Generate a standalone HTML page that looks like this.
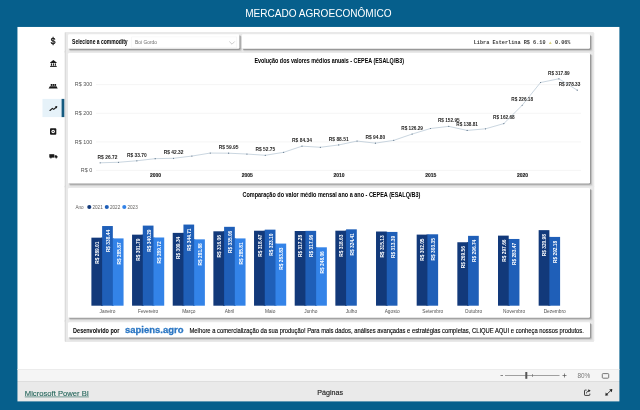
<!DOCTYPE html>
<html><head><meta charset="utf-8"><title>Mercado Agroeconômico</title>
<style>
html,body{margin:0;padding:0;}
body{width:640px;height:410px;overflow:hidden;background:#065f8c;position:relative;font-family:"Liberation Sans",sans-serif;}
.abs{position:absolute;}
svg{will-change:transform;} svg text{font-family:"Liberation Sans",sans-serif;}
</style></head>
<body>
<svg class="abs" style="left:0;top:0" width="640" height="410" viewBox="0 0 640 410">

<rect x="17.45" y="26.95" width="601.95" height="342.05" fill="#fff"/>
<rect x="17.45" y="369" width="601.95" height="12" fill="#f5f5f5"/>
<rect x="17.45" y="369" width="601.95" height="1" fill="#ececec"/>
<rect x="17.45" y="381" width="601.95" height="1" fill="#dedede"/>
<rect x="17.45" y="382" width="601.95" height="19.4" fill="#eaeaea"/>
<rect x="42.5" y="98.9" width="19.3" height="18.2" fill="#e6f2f9"/>
<rect x="61.6" y="98.9" width="2.8" height="18.2" fill="#165b80"/>

<!-- sidebar -->

 <!-- bank -->
 <g fill="#1a1a1a">
  <path d="M50.1 62.6 L53.4 60 L56.7 62.6 L56.7 63.1 L50.1 63.1 Z"/>
  <rect x="50.9" y="63.4" width="1.1" height="2.3"/><rect x="52.85" y="63.4" width="1.1" height="2.3"/><rect x="54.8" y="63.4" width="1.1" height="2.3"/>
  <rect x="50.1" y="65.9" width="6.6" height="1"/>
 </g>
 <!-- ship -->
 <g fill="#1a1a1a">
  <path d="M49.9 86.2 L56.5 86.2 L57.7 88.5 L48.6 88.5 Z"/>
  <rect x="50.7" y="84" width="1.6" height="1.9"/><rect x="52.6" y="84" width="1.6" height="1.9"/><rect x="54.5" y="84" width="1.6" height="1.9"/>
 </g>
 <!-- trend -->
 <polyline points="50,110.5 52.4,108.4 53.7,109.4 56.2,107.2" fill="none" stroke="#1a1a1a" stroke-width="1.15" stroke-linejoin="round" stroke-linecap="round"/>
 <path d="M57.3 106.1 L54.9 106.5 L56.9 108.5 Z" fill="#1a1a1a"/>
 <!-- safe -->
 <rect x="50" y="128.3" width="6.3" height="6.4" rx="0.9" fill="#1a1a1a"/>
 <circle cx="53.15" cy="131.5" r="1.75" fill="#fff"/>
 <circle cx="53.15" cy="131.5" r="0.65" fill="#1a1a1a"/>
 <!-- truck -->
 <g fill="#1a1a1a">
  <rect x="49.3" y="154.2" width="5" height="3.4"/>
  <path d="M54.6 155.2 L56.4 155.2 L57.6 156.5 L57.6 157.6 L54.6 157.6 Z"/>
  <circle cx="50.9" cy="157.7" r="0.8"/><circle cx="56.2" cy="157.7" r="0.8"/>
 </g>


<!-- cards -->

<rect x="64.80" y="31.90" width="178.90" height="21.20" rx="1.5" fill="#e9e9e9"/>
<rect x="64.60" y="31.90" width="1.20" height="21.20" rx="0.6" fill="#000" fill-opacity="0.08"/>
<rect x="241.40" y="31.90" width="352.90" height="21.20" rx="1.5" fill="#e9e9e9"/>
<rect x="64.80" y="50.60" width="529.50" height="137.10" rx="1.5" fill="#e9e9e9"/>
<rect x="64.60" y="50.60" width="1.20" height="137.10" rx="0.6" fill="#000" fill-opacity="0.08"/>
<rect x="64.80" y="185.60" width="529.50" height="136.45" rx="1.5" fill="#e9e9e9"/>
<rect x="64.60" y="185.60" width="1.20" height="136.45" rx="0.6" fill="#000" fill-opacity="0.08"/>
<rect x="64.80" y="319.80" width="529.50" height="22.10" rx="1.5" fill="#e9e9e9"/>
<rect x="64.60" y="319.80" width="1.20" height="22.10" rx="0.6" fill="#000" fill-opacity="0.08"/>
<rect x="69.50" y="35.80" width="172.90" height="16.00" rx="1.5" fill="#000" fill-opacity="0.04"/>
<rect x="69.20" y="35.50" width="172.20" height="15.30" rx="1.5" fill="#000" fill-opacity="0.12"/>
<rect x="69.00" y="35.30" width="171.50" height="14.60" rx="1.4" fill="#000" fill-opacity="0.22"/>
<rect x="68.00" y="34.30" width="171.40" height="14.50" rx="1.2" fill="#fff"/>
<rect x="243.30" y="35.80" width="349.70" height="16.00" rx="1.5" fill="#000" fill-opacity="0.04"/>
<rect x="243.00" y="35.50" width="349.00" height="15.30" rx="1.5" fill="#000" fill-opacity="0.12"/>
<rect x="242.80" y="35.30" width="348.30" height="14.60" rx="1.4" fill="#000" fill-opacity="0.22"/>
<rect x="241.80" y="34.30" width="348.20" height="14.50" rx="1.2" fill="#fff"/>
<rect x="69.50" y="54.50" width="523.50" height="131.90" rx="1.5" fill="#000" fill-opacity="0.04"/>
<rect x="69.20" y="54.20" width="522.80" height="131.20" rx="1.5" fill="#000" fill-opacity="0.12"/>
<rect x="69.00" y="54.00" width="522.10" height="130.50" rx="1.4" fill="#000" fill-opacity="0.22"/>
<rect x="68.00" y="53.00" width="522.00" height="130.40" rx="1.2" fill="#fff"/>
<rect x="69.50" y="189.50" width="523.50" height="131.25" rx="1.5" fill="#000" fill-opacity="0.04"/>
<rect x="69.20" y="189.20" width="522.80" height="130.55" rx="1.5" fill="#000" fill-opacity="0.12"/>
<rect x="69.00" y="189.00" width="522.10" height="129.85" rx="1.4" fill="#000" fill-opacity="0.22"/>
<rect x="68.00" y="188.00" width="522.00" height="129.75" rx="1.2" fill="#fff"/>
<rect x="69.50" y="323.70" width="523.50" height="16.90" rx="1.5" fill="#000" fill-opacity="0.04"/>
<rect x="69.20" y="323.40" width="522.80" height="16.20" rx="1.5" fill="#000" fill-opacity="0.12"/>
<rect x="69.00" y="323.20" width="522.10" height="15.50" rx="1.4" fill="#000" fill-opacity="0.22"/>
<rect x="68.00" y="322.20" width="522.00" height="15.40" rx="1.2" fill="#fff"/>

<polyline points="229.3,41.5 232,44.2 234.7,41.5" fill="none" stroke="#b0b0b0" stroke-width="0.65"/><rect x="131.7" y="36.9" width="105" height="10.8" fill="none" stroke="#f4f4f4" stroke-width="0.6"/>

<text x="72.1" y="44.3" textLength="55.5" lengthAdjust="spacingAndGlyphs" font-size="6.3" font-weight="bold" fill="#000">Selecione a commodity</text>
<text x="135" y="44.3" textLength="22" lengthAdjust="spacingAndGlyphs" font-size="5.6" fill="#6e6e6e">Boi Gordo</text>
<text x="473.75" y="44.3" textLength="71.8" lengthAdjust="spacingAndGlyphs" font-size="5.8" font-weight="bold" fill="#3a3a3a" style="font-family:'Liberation Mono',monospace;white-space:pre" xml:space="preserve">Libra Esterlina R$ 6.10</text>
<polygon points="548.9,44 551.7,44 550.3,41.6" fill="#d9d07c"/>
<text x="554.9" y="44.3" textLength="15.6" lengthAdjust="spacingAndGlyphs" font-size="5.8" font-weight="bold" fill="#3a3a3a" style="font-family:'Liberation Mono',monospace">0.06%</text>
<text x="254.4" y="62.9" textLength="149.6" lengthAdjust="spacingAndGlyphs" font-size="6.5" font-weight="bold" fill="#000">Evolução dos valores médios anuais - CEPEA (ESALQ/B3)</text>
<line x1="96" x2="581" y1="170.40" y2="170.40" stroke="#f0f0f0" stroke-width="0.7"/>
<text x="92.2" y="172.40" text-anchor="end" font-size="5.4" fill="#555">R$ 0</text>
<line x1="96" x2="581" y1="141.90" y2="141.90" stroke="#f0f0f0" stroke-width="0.7"/>
<text x="92.2" y="143.55" text-anchor="end" font-size="5.4" fill="#555">R$ 100</text>
<line x1="96" x2="581" y1="113.30" y2="113.30" stroke="#f0f0f0" stroke-width="0.7"/>
<text x="92.2" y="114.70" text-anchor="end" font-size="5.4" fill="#555">R$ 200</text>
<line x1="96" x2="581" y1="84.60" y2="84.60" stroke="#f0f0f0" stroke-width="0.7"/>
<text x="92.2" y="85.85" text-anchor="end" font-size="5.4" fill="#555">R$ 300</text>
<polyline points="100.15,162.79 118.50,162.28 136.85,160.78 155.20,158.67 173.55,158.29 191.90,156.07 210.25,153.05 228.60,153.20 246.95,154.06 265.30,155.28 283.65,152.32 302.00,146.17 320.35,147.28 338.70,144.96 357.05,141.07 375.40,143.15 393.75,140.35 412.10,134.07 430.45,128.52 448.80,126.37 467.15,130.45 485.50,128.81 503.85,123.57 522.20,105.25 540.55,82.51 558.90,78.79 577.25,90.20" fill="none" stroke="#9db3c6" stroke-width="0.55" stroke-linejoin="round"/>
<circle cx="100.15" cy="162.79" r="0.6" fill="#5d7388"/>
<circle cx="118.50" cy="162.28" r="0.6" fill="#5d7388"/>
<circle cx="136.85" cy="160.78" r="0.6" fill="#5d7388"/>
<circle cx="155.20" cy="158.67" r="0.6" fill="#5d7388"/>
<circle cx="173.55" cy="158.29" r="0.6" fill="#5d7388"/>
<circle cx="191.90" cy="156.07" r="0.6" fill="#5d7388"/>
<circle cx="210.25" cy="153.05" r="0.6" fill="#5d7388"/>
<circle cx="228.60" cy="153.20" r="0.6" fill="#5d7388"/>
<circle cx="246.95" cy="154.06" r="0.6" fill="#5d7388"/>
<circle cx="265.30" cy="155.28" r="0.6" fill="#5d7388"/>
<circle cx="283.65" cy="152.32" r="0.6" fill="#5d7388"/>
<circle cx="302.00" cy="146.17" r="0.6" fill="#5d7388"/>
<circle cx="320.35" cy="147.28" r="0.6" fill="#5d7388"/>
<circle cx="338.70" cy="144.96" r="0.6" fill="#5d7388"/>
<circle cx="357.05" cy="141.07" r="0.6" fill="#5d7388"/>
<circle cx="375.40" cy="143.15" r="0.6" fill="#5d7388"/>
<circle cx="393.75" cy="140.35" r="0.6" fill="#5d7388"/>
<circle cx="412.10" cy="134.07" r="0.6" fill="#5d7388"/>
<circle cx="430.45" cy="128.52" r="0.6" fill="#5d7388"/>
<circle cx="448.80" cy="126.37" r="0.6" fill="#5d7388"/>
<circle cx="467.15" cy="130.45" r="0.6" fill="#5d7388"/>
<circle cx="485.50" cy="128.81" r="0.6" fill="#5d7388"/>
<circle cx="503.85" cy="123.57" r="0.6" fill="#5d7388"/>
<circle cx="522.20" cy="105.25" r="0.6" fill="#5d7388"/>
<circle cx="540.55" cy="82.51" r="0.6" fill="#5d7388"/>
<circle cx="558.90" cy="78.79" r="0.6" fill="#5d7388"/>
<circle cx="577.25" cy="90.20" r="0.6" fill="#5d7388"/>
<text x="97.60" y="158.59" textLength="19.8" lengthAdjust="spacingAndGlyphs" font-size="5.5" font-weight="bold" fill="#252423">R$ 26.72</text>
<text x="126.95" y="156.58" textLength="19.8" lengthAdjust="spacingAndGlyphs" font-size="5.5" font-weight="bold" fill="#252423">R$ 33.70</text>
<text x="163.65" y="154.09" textLength="19.8" lengthAdjust="spacingAndGlyphs" font-size="5.5" font-weight="bold" fill="#252423">R$ 42.32</text>
<text x="218.70" y="149.00" textLength="19.8" lengthAdjust="spacingAndGlyphs" font-size="5.5" font-weight="bold" fill="#252423">R$ 59.95</text>
<text x="255.40" y="151.08" textLength="19.8" lengthAdjust="spacingAndGlyphs" font-size="5.5" font-weight="bold" fill="#252423">R$ 52.75</text>
<text x="292.10" y="141.97" textLength="19.8" lengthAdjust="spacingAndGlyphs" font-size="5.5" font-weight="bold" fill="#252423">R$ 84.34</text>
<text x="328.80" y="140.76" textLength="19.8" lengthAdjust="spacingAndGlyphs" font-size="5.5" font-weight="bold" fill="#252423">R$ 88.51</text>
<text x="365.50" y="138.95" textLength="19.8" lengthAdjust="spacingAndGlyphs" font-size="5.5" font-weight="bold" fill="#252423">R$ 94.80</text>
<text x="401.25" y="129.87" textLength="21.7" lengthAdjust="spacingAndGlyphs" font-size="5.5" font-weight="bold" fill="#252423">R$ 126.29</text>
<text x="437.95" y="122.17" textLength="21.7" lengthAdjust="spacingAndGlyphs" font-size="5.5" font-weight="bold" fill="#252423">R$ 152.95</text>
<text x="456.30" y="126.25" textLength="21.7" lengthAdjust="spacingAndGlyphs" font-size="5.5" font-weight="bold" fill="#252423">R$ 138.81</text>
<text x="493.00" y="119.37" textLength="21.7" lengthAdjust="spacingAndGlyphs" font-size="5.5" font-weight="bold" fill="#252423">R$ 162.68</text>
<text x="511.35" y="101.05" textLength="21.7" lengthAdjust="spacingAndGlyphs" font-size="5.5" font-weight="bold" fill="#252423">R$ 226.18</text>
<text x="548.05" y="74.59" textLength="21.7" lengthAdjust="spacingAndGlyphs" font-size="5.5" font-weight="bold" fill="#252423">R$ 317.89</text>
<text x="558.65" y="86.00" textLength="21.7" lengthAdjust="spacingAndGlyphs" font-size="5.5" font-weight="bold" fill="#252423">R$ 278.33</text>
<text x="149.90" y="177" textLength="11.2" lengthAdjust="spacingAndGlyphs" font-size="5.5" font-weight="bold" fill="#1a1a1a" stroke="#1a1a1a" stroke-width="0.12">2000</text>
<text x="241.65" y="177" textLength="11.2" lengthAdjust="spacingAndGlyphs" font-size="5.5" font-weight="bold" fill="#1a1a1a" stroke="#1a1a1a" stroke-width="0.12">2005</text>
<text x="333.40" y="177" textLength="11.2" lengthAdjust="spacingAndGlyphs" font-size="5.5" font-weight="bold" fill="#1a1a1a" stroke="#1a1a1a" stroke-width="0.12">2010</text>
<text x="425.15" y="177" textLength="11.2" lengthAdjust="spacingAndGlyphs" font-size="5.5" font-weight="bold" fill="#1a1a1a" stroke="#1a1a1a" stroke-width="0.12">2015</text>
<text x="516.90" y="177" textLength="11.2" lengthAdjust="spacingAndGlyphs" font-size="5.5" font-weight="bold" fill="#1a1a1a" stroke="#1a1a1a" stroke-width="0.12">2020</text>
<text x="242.5" y="197.2" textLength="177.8" lengthAdjust="spacingAndGlyphs" font-size="6.5" font-weight="bold" fill="#000">Comparação do valor médio mensal ano a ano - CEPEA (ESALQ/B3)</text>
<text x="75.5" y="208.5" font-size="4.6" fill="#605e5c">Ano</text>
<circle cx="89.3" cy="207" r="2.05" fill="#12397a"/><text x="92.5" y="208.5" font-size="4.6" fill="#605e5c">2021</text>
<circle cx="106.8" cy="207" r="2.05" fill="#1f5fb8"/><text x="110" y="208.5" font-size="4.6" fill="#605e5c">2022</text>
<circle cx="124.3" cy="207" r="2.05" fill="#3383e8"/><text x="127.5" y="208.5" font-size="4.6" fill="#605e5c">2023</text>
<rect x="101.12" y="237.67" width="2" height="68.03" fill="#12397a"/>
<rect x="91.40" y="237.67" width="10.72" height="68.03" fill="#12397a"/>
<text transform="translate(99.16,241.57) rotate(-90)" text-anchor="end" textLength="22.2" lengthAdjust="spacingAndGlyphs" font-size="5" font-weight="bold" fill="#fff">R$ 289.01</text>
<rect x="111.84" y="238.41" width="2" height="67.29" fill="#1f5fb8"/>
<rect x="102.12" y="226.03" width="10.72" height="79.67" fill="#1f5fb8"/>
<text transform="translate(109.88,229.93) rotate(-90)" text-anchor="end" textLength="22.2" lengthAdjust="spacingAndGlyphs" font-size="5" font-weight="bold" fill="#fff">R$ 338.44</text>
<rect x="112.84" y="238.41" width="10.72" height="67.29" fill="#3383e8"/>
<text transform="translate(120.60,242.31) rotate(-90)" text-anchor="end" textLength="22.2" lengthAdjust="spacingAndGlyphs" font-size="5" font-weight="bold" fill="#fff">R$ 285.87</text>
<text x="107.48" y="312.5" text-anchor="middle" font-size="4.8" fill="#505050">Janeiro</text>
<rect x="141.78" y="234.66" width="2" height="71.04" fill="#12397a"/>
<rect x="132.06" y="234.66" width="10.72" height="71.04" fill="#12397a"/>
<text transform="translate(139.82,238.56) rotate(-90)" text-anchor="end" textLength="22.2" lengthAdjust="spacingAndGlyphs" font-size="5" font-weight="bold" fill="#fff">R$ 301.79</text>
<rect x="152.50" y="237.50" width="2" height="68.20" fill="#1f5fb8"/>
<rect x="142.78" y="225.60" width="10.72" height="80.10" fill="#1f5fb8"/>
<text transform="translate(150.54,229.50) rotate(-90)" text-anchor="end" textLength="22.2" lengthAdjust="spacingAndGlyphs" font-size="5" font-weight="bold" fill="#fff">R$ 340.29</text>
<rect x="153.50" y="237.50" width="10.72" height="68.20" fill="#3383e8"/>
<text transform="translate(161.26,241.40) rotate(-90)" text-anchor="end" textLength="22.2" lengthAdjust="spacingAndGlyphs" font-size="5" font-weight="bold" fill="#fff">R$ 289.72</text>
<text x="148.14" y="312.5" text-anchor="middle" font-size="4.8" fill="#505050">Fevereiro</text>
<rect x="182.44" y="232.88" width="2" height="72.82" fill="#12397a"/>
<rect x="172.72" y="232.88" width="10.72" height="72.82" fill="#12397a"/>
<text transform="translate(180.48,236.78) rotate(-90)" text-anchor="end" textLength="22.2" lengthAdjust="spacingAndGlyphs" font-size="5" font-weight="bold" fill="#fff">R$ 309.34</text>
<rect x="193.16" y="239.35" width="2" height="66.35" fill="#1f5fb8"/>
<rect x="183.44" y="224.56" width="10.72" height="81.14" fill="#1f5fb8"/>
<text transform="translate(191.20,228.46) rotate(-90)" text-anchor="end" textLength="22.2" lengthAdjust="spacingAndGlyphs" font-size="5" font-weight="bold" fill="#fff">R$ 344.71</text>
<rect x="194.16" y="239.35" width="10.72" height="66.35" fill="#3383e8"/>
<text transform="translate(201.92,243.25) rotate(-90)" text-anchor="end" textLength="22.2" lengthAdjust="spacingAndGlyphs" font-size="5" font-weight="bold" fill="#fff">R$ 281.88</text>
<text x="188.80" y="312.5" text-anchor="middle" font-size="4.8" fill="#505050">Março</text>
<rect x="223.10" y="231.30" width="2" height="74.40" fill="#12397a"/>
<rect x="213.38" y="231.30" width="10.72" height="74.40" fill="#12397a"/>
<text transform="translate(221.14,235.20) rotate(-90)" text-anchor="end" textLength="22.2" lengthAdjust="spacingAndGlyphs" font-size="5" font-weight="bold" fill="#fff">R$ 316.06</text>
<rect x="233.82" y="238.42" width="2" height="67.28" fill="#1f5fb8"/>
<rect x="224.10" y="226.83" width="10.72" height="78.87" fill="#1f5fb8"/>
<text transform="translate(231.86,230.73) rotate(-90)" text-anchor="end" textLength="22.2" lengthAdjust="spacingAndGlyphs" font-size="5" font-weight="bold" fill="#fff">R$ 335.06</text>
<rect x="234.82" y="238.42" width="10.72" height="67.28" fill="#3383e8"/>
<text transform="translate(242.58,242.32) rotate(-90)" text-anchor="end" textLength="22.2" lengthAdjust="spacingAndGlyphs" font-size="5" font-weight="bold" fill="#fff">R$ 285.81</text>
<text x="229.46" y="312.5" text-anchor="middle" font-size="4.8" fill="#505050">Abril</text>
<rect x="263.76" y="230.73" width="2" height="74.97" fill="#12397a"/>
<rect x="254.04" y="230.73" width="10.72" height="74.97" fill="#12397a"/>
<text transform="translate(261.80,234.63) rotate(-90)" text-anchor="end" textLength="22.2" lengthAdjust="spacingAndGlyphs" font-size="5" font-weight="bold" fill="#fff">R$ 318.47</text>
<rect x="274.48" y="243.59" width="2" height="62.11" fill="#1f5fb8"/>
<rect x="264.76" y="229.64" width="10.72" height="76.06" fill="#1f5fb8"/>
<text transform="translate(272.52,233.54) rotate(-90)" text-anchor="end" textLength="22.2" lengthAdjust="spacingAndGlyphs" font-size="5" font-weight="bold" fill="#fff">R$ 323.10</text>
<rect x="275.48" y="243.59" width="10.72" height="62.11" fill="#3383e8"/>
<text transform="translate(283.24,247.49) rotate(-90)" text-anchor="end" textLength="22.2" lengthAdjust="spacingAndGlyphs" font-size="5" font-weight="bold" fill="#fff">R$ 263.83</text>
<text x="270.12" y="312.5" text-anchor="middle" font-size="4.8" fill="#505050">Maio</text>
<rect x="304.42" y="231.01" width="2" height="74.69" fill="#12397a"/>
<rect x="294.70" y="231.01" width="10.72" height="74.69" fill="#12397a"/>
<text transform="translate(302.46,234.91) rotate(-90)" text-anchor="end" textLength="22.2" lengthAdjust="spacingAndGlyphs" font-size="5" font-weight="bold" fill="#fff">R$ 317.28</text>
<rect x="315.14" y="247.31" width="2" height="58.39" fill="#1f5fb8"/>
<rect x="305.42" y="230.85" width="10.72" height="74.85" fill="#1f5fb8"/>
<text transform="translate(313.18,234.75) rotate(-90)" text-anchor="end" textLength="22.2" lengthAdjust="spacingAndGlyphs" font-size="5" font-weight="bold" fill="#fff">R$ 317.96</text>
<rect x="316.14" y="247.31" width="10.72" height="58.39" fill="#3383e8"/>
<text transform="translate(323.90,251.21) rotate(-90)" text-anchor="end" textLength="22.2" lengthAdjust="spacingAndGlyphs" font-size="5" font-weight="bold" fill="#fff">R$ 248.06</text>
<text x="310.78" y="312.5" text-anchor="middle" font-size="4.8" fill="#505050">Junho</text>
<rect x="345.08" y="230.69" width="2" height="75.01" fill="#12397a"/>
<rect x="335.36" y="230.69" width="10.72" height="75.01" fill="#12397a"/>
<text transform="translate(343.12,234.59) rotate(-90)" text-anchor="end" textLength="22.2" lengthAdjust="spacingAndGlyphs" font-size="5" font-weight="bold" fill="#fff">R$ 318.63</text>
<rect x="346.08" y="229.33" width="10.72" height="76.37" fill="#1f5fb8"/>
<text transform="translate(353.84,233.23) rotate(-90)" text-anchor="end" textLength="22.2" lengthAdjust="spacingAndGlyphs" font-size="5" font-weight="bold" fill="#fff">R$ 324.41</text>
<text x="351.44" y="312.5" text-anchor="middle" font-size="4.8" fill="#505050">Julho</text>
<rect x="385.74" y="231.93" width="2" height="73.77" fill="#12397a"/>
<rect x="376.02" y="231.52" width="10.72" height="74.18" fill="#12397a"/>
<text transform="translate(383.78,235.42) rotate(-90)" text-anchor="end" textLength="22.2" lengthAdjust="spacingAndGlyphs" font-size="5" font-weight="bold" fill="#fff">R$ 315.13</text>
<rect x="386.74" y="231.93" width="10.72" height="73.77" fill="#1f5fb8"/>
<text transform="translate(394.50,235.83) rotate(-90)" text-anchor="end" textLength="22.2" lengthAdjust="spacingAndGlyphs" font-size="5" font-weight="bold" fill="#fff">R$ 313.39</text>
<text x="392.10" y="312.5" text-anchor="middle" font-size="4.8" fill="#505050">Agosto</text>
<rect x="426.40" y="234.60" width="2" height="71.10" fill="#12397a"/>
<rect x="416.68" y="234.60" width="10.72" height="71.10" fill="#12397a"/>
<text transform="translate(424.44,238.50) rotate(-90)" text-anchor="end" textLength="22.2" lengthAdjust="spacingAndGlyphs" font-size="5" font-weight="bold" fill="#fff">R$ 302.05</text>
<rect x="427.40" y="234.29" width="10.72" height="71.41" fill="#1f5fb8"/>
<text transform="translate(435.16,238.19) rotate(-90)" text-anchor="end" textLength="22.2" lengthAdjust="spacingAndGlyphs" font-size="5" font-weight="bold" fill="#fff">R$ 303.35</text>
<text x="432.76" y="312.5" text-anchor="middle" font-size="4.8" fill="#505050">Setembro</text>
<rect x="467.06" y="242.25" width="2" height="63.45" fill="#12397a"/>
<rect x="457.34" y="242.25" width="10.72" height="63.45" fill="#12397a"/>
<text transform="translate(465.10,246.15) rotate(-90)" text-anchor="end" textLength="22.2" lengthAdjust="spacingAndGlyphs" font-size="5" font-weight="bold" fill="#fff">R$ 269.56</text>
<rect x="468.06" y="235.85" width="10.72" height="69.85" fill="#1f5fb8"/>
<text transform="translate(475.82,239.75) rotate(-90)" text-anchor="end" textLength="22.2" lengthAdjust="spacingAndGlyphs" font-size="5" font-weight="bold" fill="#fff">R$ 296.74</text>
<text x="473.42" y="312.5" text-anchor="middle" font-size="4.8" fill="#505050">Outubro</text>
<rect x="507.72" y="238.97" width="2" height="66.73" fill="#12397a"/>
<rect x="498.00" y="235.63" width="10.72" height="70.07" fill="#12397a"/>
<text transform="translate(505.76,239.53) rotate(-90)" text-anchor="end" textLength="22.2" lengthAdjust="spacingAndGlyphs" font-size="5" font-weight="bold" fill="#fff">R$ 297.66</text>
<rect x="508.72" y="238.97" width="10.72" height="66.73" fill="#1f5fb8"/>
<text transform="translate(516.48,242.87) rotate(-90)" text-anchor="end" textLength="22.2" lengthAdjust="spacingAndGlyphs" font-size="5" font-weight="bold" fill="#fff">R$ 283.47</text>
<text x="514.08" y="312.5" text-anchor="middle" font-size="4.8" fill="#505050">Novembro</text>
<rect x="548.38" y="236.92" width="2" height="68.78" fill="#12397a"/>
<rect x="538.66" y="230.14" width="10.72" height="75.56" fill="#12397a"/>
<text transform="translate(546.42,234.04) rotate(-90)" text-anchor="end" textLength="22.2" lengthAdjust="spacingAndGlyphs" font-size="5" font-weight="bold" fill="#fff">R$ 320.98</text>
<rect x="549.38" y="236.92" width="10.72" height="68.78" fill="#1f5fb8"/>
<text transform="translate(557.14,240.82) rotate(-90)" text-anchor="end" textLength="22.2" lengthAdjust="spacingAndGlyphs" font-size="5" font-weight="bold" fill="#fff">R$ 292.18</text>
<text x="554.74" y="312.5" text-anchor="middle" font-size="4.8" fill="#505050">Dezembro</text>



<text x="73.1" y="332.6" textLength="46.2" lengthAdjust="spacingAndGlyphs" font-size="6.6" font-weight="bold" fill="#000">Desenvolvido por</text>
<text x="125" y="333.4" textLength="58.5" lengthAdjust="spacingAndGlyphs" font-size="9.7" font-weight="bold" fill="#2a76c3" stroke="#2a76c3" stroke-width="0.3">sapiens.agro</text>
<text x="189.5" y="332.5" textLength="394.3" lengthAdjust="spacingAndGlyphs" font-size="6.7" fill="#000" stroke="#000" stroke-width="0.12">Melhore a comercialização da sua produção! Para mais dados, análises avançadas e estratégias completas, CLIQUE AQUI e conheça nossos produtos.</text>

<!-- zoom bar -->

 <line x1="500.5" x2="503" y1="375.5" y2="375.5" stroke="#555" stroke-width="0.7"/>
 <line x1="505" x2="559.5" y1="375.5" y2="375.5" stroke="#666" stroke-width="0.6"/>
 <rect x="525.3" y="372" width="2" height="6.8" fill="#555"/>
 <line x1="532.5" x2="532.5" y1="374" y2="377" stroke="#666" stroke-width="0.6"/>
 <path d="M562.5 375.5 H566.5 M564.5 373.5 V377.5" stroke="#555" stroke-width="0.7" fill="none"/>
 <text x="577.5" y="377.8" font-size="6.4" fill="#777">80%</text>
 <rect x="602.3" y="373.6" width="6.4" height="4.6" rx="0.8" fill="none" stroke="#6a6a6a" stroke-width="0.9"/>
 <!-- share -->
 <g fill="none" stroke="#222" stroke-width="0.85" stroke-linejoin="round">
  <path d="M586.6 390.1 H585.1 Q584.5 390.1 584.5 390.7 V394.8 Q584.5 395.4 585.1 395.4 H589.2 Q589.8 395.4 589.8 394.8 V393.6"/>
  <path d="M586.5 393.4 C586.6 391.8 587.6 390.9 589.4 390.8"/>
 </g>
 <path d="M588.3 389.2 L590.7 390.8 L588.4 392.3 Z" fill="#222"/>
 <!-- expand -->
 <path d="M606.2 394.8 L611.4 390" fill="none" stroke="#222" stroke-width="0.85"/>
 <path d="M612.3 389.1 L609.2 389.5 L611.9 392.2 Z M605.3 395.7 L608.4 395.3 L605.7 392.6 Z" fill="#222"/>


<text x="245.2" y="17.35" textLength="146.4" lengthAdjust="spacingAndGlyphs" font-size="11.3" fill="#fff">MERCADO AGROECONÔMICO</text>
<text x="53.15" y="43.9" text-anchor="middle" font-size="8.3" fill="#111" stroke="#111" stroke-width="0.35">$</text>
<text x="24.8" y="396" textLength="64.1" lengthAdjust="spacingAndGlyphs" font-size="7.7" fill="#23655a" stroke="#23655a" stroke-width="0.12">Microsoft Power BI</text>
<line x1="24.8" x2="88.9" y1="396.9" y2="396.9" stroke="#23655a" stroke-width="0.6"/>
<text x="317.3" y="395.4" textLength="25.8" lengthAdjust="spacingAndGlyphs" font-size="7.6" fill="#222" stroke="#222" stroke-width="0.15">Páginas</text>

</svg>
</body></html>
